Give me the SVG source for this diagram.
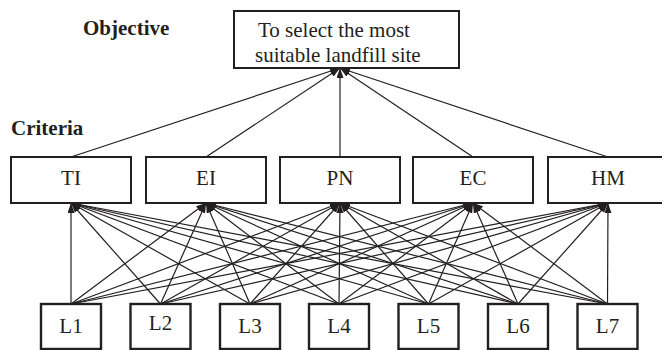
<svg xmlns="http://www.w3.org/2000/svg" width="662" height="350" viewBox="0 0 662 350">
<style>
.box{fill:#fff;stroke:#231f20;stroke-width:2}
.lbox{fill:#fff;stroke:#231f20;stroke-width:2.4}
.t{font-family:"Liberation Serif","Times New Roman",serif;font-size:21px;fill:#231f20}
.c{text-anchor:middle}
.b{font-weight:bold}
.e{stroke:#231f20;stroke-width:1.2;fill:none;marker-end:url(#ah)}
</style>
<defs>
<marker id="ah" markerUnits="userSpaceOnUse" markerWidth="11" markerHeight="8" refX="10" refY="3.5" orient="auto">
<path d="M0,0 L10,3.5 L0,7 z" fill="#231f20"/>
</marker>
</defs>
<rect width="662" height="350" fill="#fff"/>
<text class="t b" x="83" y="35">Objective</text>
<text class="t b" x="11" y="135">Criteria</text>
<g id="connectors">
<line class="e" x1="71" y1="157" x2="340" y2="68"/>
<line class="e" x1="206" y1="157" x2="340" y2="68"/>
<line class="e" x1="340" y1="157" x2="340" y2="68"/>
<line class="e" x1="473" y1="157" x2="340" y2="68"/>
<line class="e" x1="608" y1="157" x2="340" y2="68"/>
<line class="e" x1="71" y1="304" x2="71" y2="203"/>
<line class="e" x1="71" y1="304" x2="206" y2="203"/>
<line class="e" x1="71" y1="304" x2="340" y2="203"/>
<line class="e" x1="71" y1="304" x2="473" y2="203"/>
<line class="e" x1="71" y1="304" x2="608" y2="203"/>
<line class="e" x1="160.5" y1="304" x2="71" y2="203"/>
<line class="e" x1="160.5" y1="304" x2="206" y2="203"/>
<line class="e" x1="160.5" y1="304" x2="340" y2="203"/>
<line class="e" x1="160.5" y1="304" x2="473" y2="203"/>
<line class="e" x1="160.5" y1="304" x2="608" y2="203"/>
<line class="e" x1="250" y1="304" x2="71" y2="203"/>
<line class="e" x1="250" y1="304" x2="206" y2="203"/>
<line class="e" x1="250" y1="304" x2="340" y2="203"/>
<line class="e" x1="250" y1="304" x2="473" y2="203"/>
<line class="e" x1="250" y1="304" x2="608" y2="203"/>
<line class="e" x1="339" y1="304" x2="71" y2="203"/>
<line class="e" x1="339" y1="304" x2="206" y2="203"/>
<line class="e" x1="339" y1="304" x2="340" y2="203"/>
<line class="e" x1="339" y1="304" x2="473" y2="203"/>
<line class="e" x1="339" y1="304" x2="608" y2="203"/>
<line class="e" x1="428.5" y1="304" x2="71" y2="203"/>
<line class="e" x1="428.5" y1="304" x2="206" y2="203"/>
<line class="e" x1="428.5" y1="304" x2="340" y2="203"/>
<line class="e" x1="428.5" y1="304" x2="473" y2="203"/>
<line class="e" x1="428.5" y1="304" x2="608" y2="203"/>
<line class="e" x1="518" y1="304" x2="71" y2="203"/>
<line class="e" x1="518" y1="304" x2="206" y2="203"/>
<line class="e" x1="518" y1="304" x2="340" y2="203"/>
<line class="e" x1="518" y1="304" x2="473" y2="203"/>
<line class="e" x1="518" y1="304" x2="608" y2="203"/>
<line class="e" x1="607.5" y1="304" x2="71" y2="203"/>
<line class="e" x1="607.5" y1="304" x2="206" y2="203"/>
<line class="e" x1="607.5" y1="304" x2="340" y2="203"/>
<line class="e" x1="607.5" y1="304" x2="473" y2="203"/>
<line class="e" x1="607.5" y1="304" x2="608" y2="203"/>
</g>
<g id="objective">
<rect class="box" x="234" y="11" width="225" height="57"/>
<text class="t" x="258" y="37">To select the most</text>
<text class="t" x="255" y="62">suitable landfill site</text>
</g>
<g id="TI"><rect class="box" x="11" y="157" width="120" height="46"/><text class="t c" x="71" y="185">TI</text></g>
<g id="EI"><rect class="box" x="146" y="157" width="120" height="46"/><text class="t c" x="206" y="185">EI</text></g>
<g id="PN"><rect class="box" x="280" y="157" width="120" height="46"/><text class="t c" x="340" y="185">PN</text></g>
<g id="EC"><rect class="box" x="413" y="157" width="120" height="46"/><text class="t c" x="473" y="185">EC</text></g>
<g id="HM"><rect class="box" x="548" y="157" width="120" height="46"/><text class="t c" x="608" y="185">HM</text></g>
<g id="L1"><rect class="lbox" x="41" y="304" width="60" height="45"/><text class="t c" x="71" y="333">L1</text></g>
<g id="L2"><rect class="lbox" x="130.5" y="304" width="60" height="45"/><text class="t c" x="160.5" y="330">L2</text></g>
<g id="L3"><rect class="lbox" x="220" y="304" width="60" height="45"/><text class="t c" x="250" y="333">L3</text></g>
<g id="L4"><rect class="lbox" x="309" y="304" width="60" height="45"/><text class="t c" x="339" y="333">L4</text></g>
<g id="L5"><rect class="lbox" x="398.5" y="304" width="60" height="45"/><text class="t c" x="428.5" y="333">L5</text></g>
<g id="L6"><rect class="lbox" x="488" y="304" width="60" height="45"/><text class="t c" x="518" y="333">L6</text></g>
<g id="L7"><rect class="lbox" x="577.5" y="304" width="60" height="45"/><text class="t c" x="607.5" y="333">L7</text></g>
</svg>
